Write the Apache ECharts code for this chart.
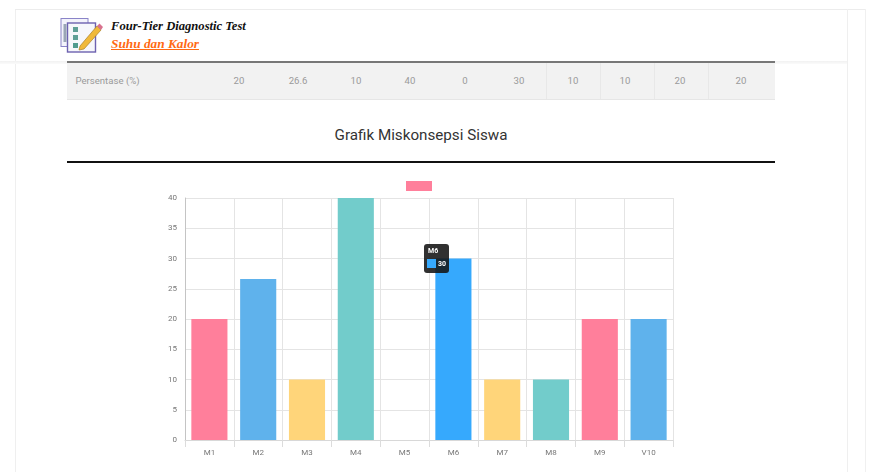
<!DOCTYPE html>
<html>
<head>
<meta charset="utf-8">
<title>Grafik Miskonsepsi Siswa</title>
<script src="https://cdn.jsdelivr.net/npm/echarts@6/dist/echarts.min.js"></script>
<style>
  html, body { margin: 0; padding: 0; background: #fff; }
  #page { position: relative; width: 869px; height: 472px; overflow: hidden; font-family: Roboto, sans-serif; }
  #page > div, #page > svg { position: absolute; }
  #chart { left: 0; top: 0; width: 869px; height: 472px; }
  .cell { top: 62px; height: 37px; line-height: 37px; font-size: 9.6px; color: #9a9a9a; transform: translateX(-50%); white-space: nowrap; }
</style>
</head>
<body>
<div id="page">
  <!-- Card outline and header band -->
  <div style="left:15px;top:9px;width:1px;height:463px;background:#efefef"></div>
  <div style="left:15px;top:9px;width:850px;height:1px;background:#ececec"></div>
  <div style="left:847px;top:9px;width:1px;height:463px;background:#efefef"></div>
  <div style="left:865px;top:9px;width:1px;height:463px;background:#f0f0f0"></div>
  <div style="left:0;top:61px;width:847px;height:3px;background:linear-gradient(#f1f1f1,#fbfbfb)"></div>

  <!-- Brand icon: checklist sheets with a pencil -->
  <svg style="left:60px;top:17px" width="44" height="36" viewBox="0 0 44 36">
    <rect x="1" y="1.5" width="27" height="28" fill="#f3f3fb" stroke="#8a84c8" stroke-width="1"/>
    <rect x="7.5" y="6" width="28" height="29" fill="#f6f7fb" stroke="#6d62b0" stroke-width="1.4"/>
    <rect x="3.5" y="7" width="3" height="18" fill="#9aa6b5"/>
    <rect x="13" y="10" width="5" height="5" fill="#5f9f96"/>
    <rect x="13" y="18" width="5" height="5" fill="#5f9f96"/>
    <rect x="13" y="26" width="5" height="5" fill="#4f9b8f"/>
    <path d="M20 29 L37 9 L41 13 L24 32 L19 33 Z" fill="#f0b93a" stroke="#a9812a" stroke-width="0.7"/>
    <path d="M37 9 L39.5 6.5 L43 10 L41 13 Z" fill="#d9728f"/>
  </svg>

  <!-- Brand text -->
  <div style="left:111px;top:19px;font:italic bold 12.6px 'Liberation Serif',serif;color:#111;white-space:nowrap;line-height:14px">Four-Tier Diagnostic Test</div>
  <div style="left:111px;top:36px;font:italic bold 13.3px 'Liberation Serif',serif;color:#ff6a13;white-space:nowrap;line-height:16px;text-decoration:underline">Suhu dan Kalor</div>

  <!-- Last row of the results table -->
  <div style="left:67px;top:61px;width:708px;height:38px;background:#f2f2f2;border-bottom:1px solid #e6e6e6;box-sizing:content-box"></div>
  <div style="left:67px;top:61px;width:708px;height:2px;background:#777"></div>
  <div style="left:546px;top:63px;width:1px;height:36px;background:#e8e8e8"></div>
  <div style="left:600px;top:63px;width:1px;height:36px;background:#e8e8e8"></div>
  <div style="left:654px;top:63px;width:1px;height:36px;background:#e8e8e8"></div>
  <div style="left:708px;top:63px;width:1px;height:36px;background:#e8e8e8"></div>
  <div id="rowCells"></div>

  <!-- Section heading -->
  <div style="left:67px;top:124px;width:708px;text-align:center;font-size:15.2px;line-height:22px;color:#333">Grafik Miskonsepsi Siswa</div>
  <div style="left:67px;top:161px;width:708px;height:2px;background:#111"></div>

  <div id="chart"></div>
</div>

<script>
// Misconception codes and their percentages
const categories = ['M1', 'M2', 'M3', 'M4', 'M5', 'M6', 'M7', 'M8', 'M9', 'V10'];
const percentages = [20, 26.6, 10, 40, 0, 30, 10, 10, 20, 20];
const barColors = ['#ff7f9b', '#5fb2ec', '#ffd57a', '#72cccb', '#ff7f9b', '#36a9fd', '#ffd57a', '#72cccb', '#ff7f9b', '#5fb2ec'];
const yTicks = { min: 0, max: 40, step: 5 };

// Table row above the chart
const rowLabel = 'Persentase (%)';
const rowValues = ['20', '26.6', '10', '40', '0', '30', '10', '10', '20', '20'];
const rowCentres = [239, 298, 356, 410, 465, 519, 573, 625, 680, 741];

const rowHost = document.getElementById('rowCells');
rowHost.style.cssText = 'left:0;top:0';
rowHost.innerHTML = '<div class="cell" style="position:absolute;left:107.5px">' + rowLabel + '</div>' +
  rowValues.map((v, i) => '<div class="cell" style="position:absolute;left:' + rowCentres[i] + 'px">' + v + '</div>').join('');

const chart = echarts.init(document.getElementById('chart'), null, { renderer: 'canvas' });
const gridLine = { color: '#e4e4e4', width: 1 };

chart.setOption({
  animation: false,
  backgroundColor: 'transparent',
  grid: { left: 185, right: 196, top: 198, bottom: 32, containLabel: false },
  legend: {
    left: 406, top: 181, padding: 0,
    itemWidth: 26, itemHeight: 10,
    icon: 'rect',
    selectedMode: false,
    formatter: () => '',
    textStyle: { fontSize: 1 },
    data: ['Persentase']
  },
  tooltip: {
    trigger: 'item',
    alwaysShowContent: true,
    transitionDuration: 0,
    position: [424, 244],
    padding: 0,
    borderWidth: 0,
    backgroundColor: 'rgba(20,20,20,0.88)',
    extraCssText: 'box-shadow:none;border-radius:3px;width:25px;height:29px;overflow:hidden;',
    formatter: (p) =>
      '<div style="font:bold 7px Roboto,sans-serif;color:#fff;line-height:9px;padding:3px 0 0 4px">' + p.name + '</div>' +
      '<div style="display:flex;align-items:center;padding:3px 0 0 3px;font:bold 7px Roboto,sans-serif;color:#fff">' +
      '<span style="display:inline-block;width:9px;height:9px;background:' + p.color + ';margin-right:2px"></span>' + p.value + '</div>'
  },
  xAxis: {
    type: 'category',
    data: categories,
    boundaryGap: true,
    axisLine: { lineStyle: { color: '#d8d8d8' } },
    axisTick: { show: true, length: 7, alignWithLabel: false, lineStyle: { color: '#dcdcdc' } },
    splitLine: { show: true, lineStyle: gridLine },
    axisLabel: { color: '#777', fontSize: 8, fontFamily: 'Roboto, sans-serif', margin: 9, interval: 0 }
  },
  yAxis: {
    type: 'value',
    min: yTicks.min, max: yTicks.max, interval: yTicks.step,
    axisLine: { show: true, lineStyle: { color: '#c4c4c4', width: 1 } },
    axisTick: { show: false },
    splitLine: { show: true, lineStyle: gridLine },
    axisLabel: { color: '#777', fontSize: 8, fontFamily: 'Roboto, sans-serif', margin: 8 }
  },
  series: [{
    name: 'Persentase',
    type: 'bar',
    barCategoryGap: '26%',
    itemStyle: { color: '#ff7f9b' },
    emphasis: { disabled: true },
    data: percentages.map((v, i) => ({ value: v, itemStyle: { color: barColors[i] } }))
  }]
});

// Keep the readout for M6 open
chart.dispatchAction({ type: 'showTip', seriesIndex: 0, dataIndex: 5 });
</script>
</body>
</html>
